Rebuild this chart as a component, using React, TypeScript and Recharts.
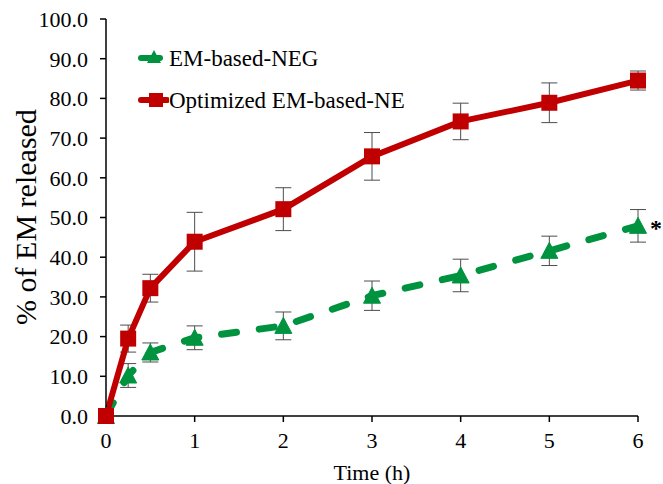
import React from 'react';
import { LineChart, Line, XAxis, YAxis, ErrorBar, Legend, Label, LabelList } from 'recharts';

const times = [0, 0.25, 0.5, 1, 2, 3, 4, 5, 6];
const negValues = [0, 10.2, 16.0, 19.7, 22.7, 30.3, 35.4, 41.6, 47.9];
const negErrors = [0, 3.0, 2.4, 3.0, 3.5, 3.7, 4.1, 3.7, 4.1];
const neValues = [0, 19.5, 32.2, 43.9, 52.1, 65.4, 74.2, 78.9, 84.5];
const neErrors = [0, 3.4, 3.5, 7.4, 5.4, 6.0, 4.6, 5.0, 2.4];
const negMarks = ['', '', '', '', '', '', '', '', '*'];
const xTicks = [0, 1, 2, 3, 4, 5, 6];
const yTicks = [0, 10, 20, 30, 40, 50, 60, 70, 80, 90, 100];
const negName = 'EM-based-NEG';
const neName = 'Optimized EM-based-NE';

const GREEN = '#00933F';
const RED = '#C00000';
const FONT = '"Liberation Serif", "Times New Roman", serif';

const data = times.map((t, i) => ({
  t,
  neg: negValues[i],
  negErr: negErrors[i],
  ne: neValues[i],
  neErr: neErrors[i],
  mark: negMarks[i],
}));

const Triangle = (props: any) => {
  const { cx, cy, index } = props;
  if (cx == null || cy == null) return <g key={`t${index}`} />;
  const w = 17, h = 15;
  return (
    <polygon
      key={`t${index}`}
      points={`${cx},${cy - h / 2 - 1} ${cx + w / 2},${cy + h / 2} ${cx - w / 2},${cy + h / 2}`}
      fill={GREEN}
      stroke={GREEN}
      strokeWidth={1}
    />
  );
};

const Square = (props: any) => {
  const { cx, cy, index } = props;
  if (cx == null || cy == null) return <g key={`s${index}`} />;
  const s = 16;
  return <rect key={`s${index}`} x={cx - s / 2} y={cy - s / 2} width={s} height={s} fill={RED} />;
};

const renderLegend = (props: any) => {
  const { payload } = props;
  return (
    <div style={{ fontFamily: FONT, fontSize: 23, color: '#000' }}>
      {(payload || []).map((item: any, i: number) => {
        const isNeg = item.dataKey === 'neg';
        return (
          <div key={i} style={{ display: 'flex', alignItems: 'center', height: 42 }}>
            <svg width={31} height={20} style={{ display: 'block' }}>
              {isNeg ? (
                <g>
                  <line x1={3} y1={10} x2={22} y2={10} stroke={GREEN} strokeWidth={6} strokeLinecap="round" />
                  <polygon points="16,2 23,15 9,15" fill={GREEN} />
                </g>
              ) : (
                <g>
                  <line x1={3} y1={10} x2={29} y2={10} stroke={RED} strokeWidth={6} strokeLinecap="round" />
                  <rect x={11} y={3} width={14} height={14} fill={RED} />
                </g>
              )}
            </svg>
            <span style={{ lineHeight: '23px', whiteSpace: 'nowrap' }}>{item.value}</span>
          </div>
        );
      })}
    </div>
  );
};

const StarLabel = (props: any) => {
  const { x, y, value } = props;
  if (!value) return null;
  return (
    <text x={x + 12} y={y + 10} fontFamily={FONT} fontSize={24} fontWeight="bold" fill="#000">
      {value}
    </text>
  );
};

const YLabel = () => {
  const cx = 25;
  const cy = 217;
  return (
    <text
      x={cx}
      y={cy}
      transform={`rotate(-90, ${cx}, ${cy})`}
      textAnchor="middle"
      dominantBaseline="central"
      fontFamily={FONT}
      fontSize={30}
      fill="#000"
    >
      % of EM released
    </text>
  );
};

export default function App() {
  return (
    <div style={{ position: 'absolute', left: 0, top: 0, background: '#fff' }}>
      <LineChart
        width={663}
        height={484}
        data={data}
        margin={{ top: 19, right: 25, left: 0, bottom: 0 }}
      >
        <XAxis
          dataKey="t"
          type="number"
          domain={[0, 6]}
          ticks={xTicks}
          height={68}
          tickSize={6}
          tickMargin={10}
          axisLine={{ stroke: '#000', strokeWidth: 1.5 }}
          tickLine={{ stroke: '#000', strokeWidth: 1.5 }}
          tick={{ fill: '#000', fontFamily: FONT, fontSize: 22 }}
        >
          <Label value="Time (h)" position="insideBottom" offset={4} style={{ fill: '#000', fontFamily: FONT, fontSize: 22 }} />
        </XAxis>
        <YAxis
          type="number"
          domain={[0, 100]}
          ticks={yTicks}
          width={106}
          tickSize={6}
          tickMargin={12}
          interval={0}
          tickFormatter={(v: number) => v.toFixed(1)}
          axisLine={{ stroke: '#000', strokeWidth: 1.5 }}
          tickLine={{ stroke: '#000', strokeWidth: 1.5 }}
          tick={{ fill: '#000', fontFamily: FONT, fontSize: 22 }}
        >
          <Label content={YLabel} />
        </YAxis>
        <Legend
          content={renderLegend}
          layout="vertical"
          verticalAlign="middle"
          align="center"
          wrapperStyle={{ position: 'absolute', left: 138, top: 37, width: 'auto' }}
        />
        <Line
          dataKey="neg"
          name={negName}
          stroke={GREEN}
          strokeWidth={7}
          strokeDasharray="15 23"
          strokeLinecap="round"
          dot={Triangle}
          activeDot={false}
          isAnimationActive={false}
        >
          <ErrorBar dataKey="negErr" direction="y" width={8} stroke="#4d4d4d" strokeWidth={1} />
          <LabelList dataKey="mark" content={StarLabel} />
        </Line>
        <Line
          dataKey="ne"
          name={neName}
          stroke={RED}
          strokeWidth={6}
          dot={Square}
          activeDot={false}
          isAnimationActive={false}
        >
          <ErrorBar dataKey="neErr" direction="y" width={8} stroke="#4d4d4d" strokeWidth={1} />
        </Line>
      </LineChart>
    </div>
  );
}
